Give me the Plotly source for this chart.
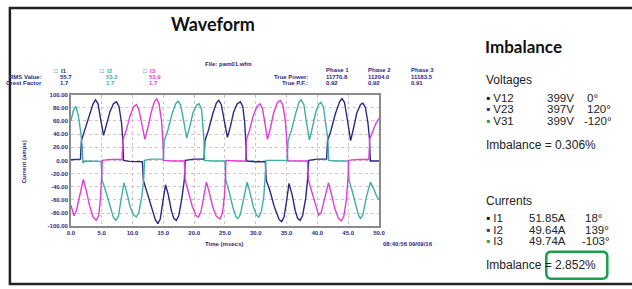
import plotly.graph_objects as go

# ---------------- data ----------------
t_i1 = [0.0, 1.0, 1.55, 1.7, 2.2, 3.0, 3.6, 4.0, 4.4, 4.8, 5.3, 5.8, 6.3, 6.9, 7.4, 7.8, 8.2, 8.4, 8.55,
        9.5, 11.6, 11.75, 12.3, 13.0, 13.7, 14.1, 14.5, 14.9, 15.35, 15.8, 16.3, 16.7, 17.1, 17.5, 18.0, 18.4, 18.55,
        20.0, 21.6, 21.75, 22.3, 23.0, 23.6, 24.0, 24.4, 24.9, 25.4, 25.9, 26.4, 27.0, 27.5, 27.9, 28.2, 28.35, 28.5,
        30.0, 31.55, 31.7, 32.3, 33.0, 33.8, 34.2, 34.6, 35.0, 35.4, 35.9, 36.4, 36.8, 37.2, 37.6, 38.1, 38.4, 38.6,
        40.0, 41.5, 41.65, 42.2, 42.9, 43.6, 44.0, 44.4, 44.9, 45.4, 45.9, 46.4, 47.0, 47.4, 47.8, 48.2, 48.45, 48.6, 50.0]
v_i1 = [1, 1.5, 2, 30, 45, 70, 86, 92, 86, 64, 38, 55, 73, 86, 89, 82, 58, 34, 0,
        -1.5, -2, -30, -46, -70, -90, -96, -89, -64, -37, -52, -76, -88, -91, -84, -58, -30, 0,
        2, 2, 30, 45, 70, 87, 91, 85, 60, 35, 52, 73, 86, 89, 82, 58, 34, -1,
        -2, -2, -30, -46, -70, -90, -93, -86, -62, -35, -52, -76, -88, -91, -84, -58, -30, 0,
        2, 2, 30, 45, 70, 89, 94, 88, 60, 30, 50, 72, 85, 87, 80, 58, 34, -1, -1]

t_i2 = [0.0, 0.4, 0.8, 1.2, 1.6, 1.85, 1.95, 2.3, 4.9, 5.05, 5.6, 6.3, 6.9, 7.3, 7.7, 8.1, 8.6, 9.1, 9.6, 10.1, 10.6,
        11.0, 11.5, 11.8, 11.95, 13.0, 15.0, 15.15, 15.7, 16.4, 17.0, 17.4, 17.8, 18.3, 18.8, 19.3, 19.8, 20.4, 20.8,
        21.2, 21.5, 21.6, 21.7, 23.0, 25.0, 25.15, 25.7, 26.3, 26.8, 27.1, 27.5, 28.0, 28.6, 29.1, 29.6, 30.1, 30.5,
        30.9, 31.3, 31.5, 31.65, 33.0, 35.1, 35.25, 35.8, 36.5, 37.0, 37.35, 37.8, 38.2, 38.7, 39.2, 39.7, 40.2, 40.6,
        41.0, 41.4, 41.7, 41.85, 43.0, 45.0, 45.15, 45.7, 46.3, 46.7, 47.0, 47.4, 47.9, 48.6, 49.1, 49.6, 50.0]
v_i2 = [60, 76, 82, 68, 42, 20, -4, -1, -1.5, -30, -45, -70, -87, -91, -85, -62, -34, -50, -70, -82, -86,
        -80, -55, -30, 0, 2, 2, 30, 45, 70, 86, 90, 84, 60, 34, 52, 72, 84, 86,
        78, 50, 30, 0, -1, -1, -30, -48, -72, -86, -88, -82, -60, -33, -50, -70, -83, -86,
        -78, -55, -30, 0, 0, 0, 30, 46, 72, 88, 92, 85, 60, 31, 50, 72, 85, 88,
        80, 56, 32, 0, -1, -1, -30, -48, -72, -84, -88, -82, -58, -33, -42, -54, -60]

t_i3 = [0.0, 0.5, 0.9, 1.4, 2.0, 2.5, 3.0, 3.6, 4.1, 4.5, 4.8, 4.95, 5.1, 6.5, 8.3, 8.45, 9.0, 9.6, 10.2, 10.65,
        11.0, 11.5, 12.0, 12.5, 13.0, 13.5, 13.9, 14.3, 14.7, 14.9, 15.05, 16.5, 18.4, 18.55, 19.1, 19.7, 20.3, 20.7,
        21.1, 21.5, 22.0, 22.5, 23.0, 23.6, 24.2, 24.6, 24.9, 25.05, 25.15, 27.0, 28.35, 28.5, 29.0, 29.6, 30.2, 30.7,
        31.1, 31.5, 31.9, 32.4, 32.9, 33.5, 34.0, 34.4, 34.8, 35.0, 35.2, 37.0, 38.4, 38.55, 39.1, 39.7, 40.2, 40.6,
        41.2, 41.8, 42.3, 42.8, 43.4, 43.9, 44.3, 44.7, 44.95, 45.1, 46.5, 48.35, 48.5, 49.0, 49.5, 50.0]
v_i3 = [-68, -84, -76, -52, -29, -46, -68, -86, -91, -84, -58, -30, 0, 1.5, 1.5, 32, 46, 68, 82, 85,
        78, 56, 32, 50, 72, 88, 94, 86, 60, 34, 0, -1, -1, -30, -48, -70, -84, -86,
        -78, -56, -33, -50, -70, -85, -89, -80, -55, -30, 0, -1, -1, 32, 46, 68, 82, 86,
        78, 56, 32, 50, 72, 88, 91, 84, 60, 34, -1, -1, -1, -30, -48, -70, -83, -80,
        -56, -34, -52, -72, -88, -92, -85, -60, -30, 0, 1.5, 1.5, 33, 46, 56, 64]

series_names = ["I1", "I2", "I3"]
rms_values = ["55.7", "53.2", "53.9"]
crest_factors = ["1.7", "1.7", "1.7"]
phase_names = ["Phase 1", "Phase 2", "Phase 3"]
true_power = ["11770.8", "11204.0", "11183.5"]
true_pf = ["0.92", "0.92", "0.91"]

x_ticks = [0, 5, 10, 15, 20, 25, 30, 35, 40, 45, 50]
x_tick_labels = ["0.0", "5.0", "10.0", "15.0", "20.0", "25.0", "30.0", "35.0", "40.0", "45.0", "50.0"]
y_ticks = [100, 80, 60, 40, 20, 0, -20, -40, -60, -80, -100]
y_tick_labels = ["100.00", "80.00", "60.00", "40.00", "20.00", "0.00", "-20.00", "-40.00", "-60.00", "-80.00", "-100.00"]

volt_names = ["V12", "V23", "V31"]
volt_values = ["399V", "397V", "399V"]
volt_angles = ["0°", "120°", "-120°"]
volt_imbalance = "0.306%"
curr_names = ["I1", "I2", "I3"]
curr_values = ["51.85A", "49.64A", "49.74A"]
curr_angles = ["18°", "139°", "-103°"]
curr_imbalance = "2.852%"

# ---------------- style ----------------
W, H = 632, 289
NAVY = "#2a2a85"
TEAL = "#3db0a6"
MAGENTA = "#e03fd6"
line_colors = [NAVY, TEAL, MAGENTA]
bullet_colors = ["#111111", "#1f2f9a", "#22a04a"]
SMALL = dict(family="Liberation Sans, Arial", size=6, color=NAVY)
PANEL = "Liberation Sans, Arial"
HEAD = "Lato, Open Sans, sans-serif"
TXT = "#222222"


def px(x):
    return x / W


def py(y):
    return 1 - y / H


fig = go.Figure()
for name, tt, vv, col in zip(series_names, [t_i1, t_i2, t_i3], [v_i1, v_i2, v_i3], line_colors):
    fig.add_trace(go.Scatter(x=tt, y=vv, mode="lines", name=name,
                             line=dict(color=col, width=1.4), showlegend=False,
                             hoverinfo="skip"))

ann = []


def add(text, x, y, size=6, color=NAVY, xanchor="left", family="Liberation Sans, Arial",
        bold=False, angle=0):
    if bold:
        text = "<b>" + text + "</b>"
    ann.append(dict(text=text, x=px(x), y=py(y), xref="paper", yref="paper",
                    xanchor=xanchor, yanchor="middle", showarrow=False, textangle=angle,
                    font=dict(size=size, color=color, family=family)))


# chart header
add("Waveform", 212, 21, size=18, color="#111111", xanchor="center", family=HEAD, bold=True)
add("File: pam01.wfm", 228, 62, bold=True, xanchor="center")
leg_x = [55, 102, 145]
for i in range(3):
    add("□", leg_x[i] - 6, 69, size=6, color=NAVY, xanchor="left")
    add(series_names[i], leg_x[i] + 1, 69, color=line_colors[i], bold=True)
    add(rms_values[i], leg_x[i], 75.5, color=line_colors[i], bold=True)
    add(crest_factors[i], leg_x[i], 81.5, color=line_colors[i], bold=True)
add("RMS Value:", 41, 75.5, xanchor="right", bold=True)
add("Crest Factor", 41, 81.5, xanchor="right", bold=True)
add("True Power:", 311, 75.5, xanchor="right", bold=True)
add("True P.F.:", 311, 81.5, xanchor="right", bold=True)
ph_x = [325, 368, 412]
for i in range(3):
    add(phase_names[i], ph_x[i], 68.5, bold=True)
    add(true_power[i], ph_x[i], 75.5, bold=True)
    add(true_pf[i], ph_x[i], 81.5, bold=True)

add("Current (amps)", 20, 162, bold=True, angle=-90, xanchor="center")
add("Time (msecs)", 224, 246, bold=True, xanchor="center")
add("08:40:56 09/09/16", 411, 246, bold=True, xanchor="center")

# right panel
add("Imbalance", 487, 44, size=17, color="#111111", family=HEAD, bold=True)
add("Voltages", 488, 79, size=12, color=TXT, family=PANEL)
vy = [97, 108.5, 120]
for i in range(3):
    add('<span style="color:%s">▪</span> %s' % (bullet_colors[i], volt_names[i]), 488, vy[i],
        size=11.5, color=TXT, family=PANEL)
    add(volt_values[i], 550, vy[i], size=11.5, color=TXT, family=PANEL)
    add(volt_angles[i], 587 if volt_angles[i].startswith("-") else 590, vy[i], size=11.5,
        color=TXT, family=PANEL)
add("Imbalance = " + volt_imbalance, 488, 145, size=12, color=TXT, family=PANEL)

add("Currents", 488, 202, size=12, color=TXT, family=PANEL)
cy = [219.5, 231.5, 243.5]
for i in range(3):
    add('<span style="color:%s">▪</span> %s' % (bullet_colors[i], curr_names[i]), 488, cy[i],
        size=11.5, color=TXT, family=PANEL)
    add(curr_values[i], 531, cy[i], size=11.5, color=TXT, family=PANEL)
    add(curr_angles[i], 585 if curr_angles[i].startswith("-") else 588, cy[i], size=11.5,
        color=TXT, family=PANEL)
add("Imbalance = " + curr_imbalance, 488, 267.5, size=12, color=TXT, family=PANEL)

# shapes: outer slide border and green highlight box
x0, x1, y0, y1 = px(551), px(613), py(281.5), py(254)
r = 5 / W
ry = 5 / H
green_path = (f"M {x0 + r},{y0} L {x1 - r},{y0} Q {x1},{y0} {x1},{y0 + ry} L {x1},{y1 - ry} "
              f"Q {x1},{y1} {x1 - r},{y1} L {x0 + r},{y1} Q {x0},{y1} {x0},{y1 - ry} "
              f"L {x0},{y0 + ry} Q {x0},{y0} {x0 + r},{y0} Z")
shapes = [
    dict(type="rect", xref="paper", yref="paper", x0=px(6), x1=px(640), y0=py(287), y1=py(5),
         line=dict(color="#222222", width=2.5)),
    dict(type="path", xref="paper", yref="paper", path=green_path,
         line=dict(color="#1e9e4c", width=2.5)),
]

fig.update_layout(
    width=W, height=H,
    margin=dict(l=0, r=0, t=0, b=0),
    paper_bgcolor="white", plot_bgcolor="white",
    annotations=ann, shapes=shapes,
    xaxis=dict(domain=[px(68), px(381)], range=[0, 50], tickvals=x_ticks,
               ticktext=["<b>%s</b>" % s for s in x_tick_labels],
               tickfont=SMALL, showgrid=True, gridcolor="#d9bfc6", griddash="dot", gridwidth=1,
               zeroline=False, showline=True, mirror=True, linecolor="#8a8a8a", linewidth=1.5,
               ticks="", fixedrange=True),
    yaxis=dict(domain=[py(228), py(93.5)], range=[-100, 100], tickvals=y_ticks,
               ticktext=["<b>%s</b>" % s for s in y_tick_labels],
               tickfont=SMALL, showgrid=True, gridcolor="#d9bfc6", griddash="dot", gridwidth=1,
               zeroline=False, showline=True, mirror=True, linecolor="#8a8a8a", linewidth=1.5,
               ticks="", fixedrange=True),
)

fig.write_html("out.html", config={"displayModeBar": False},
               post_script="document.body.style.margin='0';document.body.style.padding='0';"
                           "document.documentElement.style.overflow='hidden';")
